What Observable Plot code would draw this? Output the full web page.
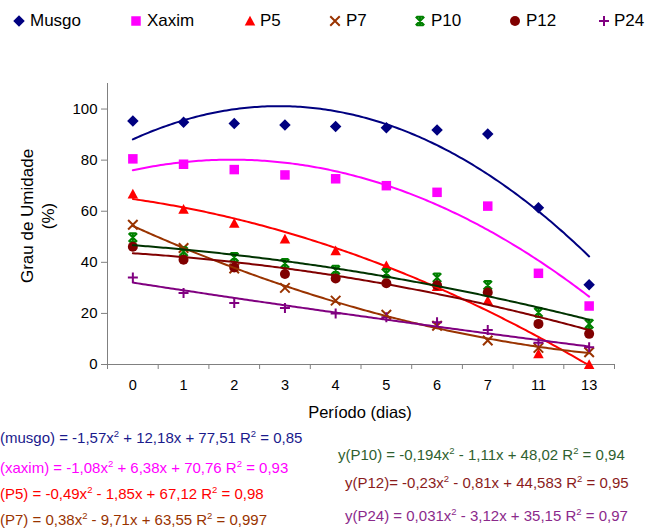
<!DOCTYPE html>
<html><head><meta charset="utf-8">
<script src="https://cdn.jsdelivr.net/npm/d3@7"></script>
<script src="https://cdn.jsdelivr.net/npm/@observablehq/plot@0.6"></script>
<style>
body{margin:0;background:#fff;font-family:"Liberation Sans",Arial,sans-serif;}
#wrap{position:relative;width:645px;height:528px;overflow:hidden;background:#fff;}
#wrap svg.plot{position:absolute;left:0;top:0;}
.leg{position:absolute;top:11px;font-size:17px;line-height:20px;color:#000;white-space:nowrap;}
.legm{position:absolute;top:15px;}
.eq{position:absolute;font-size:15px;white-space:nowrap;line-height:16px;}
.eq sup{font-size:9.5px;vertical-align:6px;line-height:0;}
.ylab{position:absolute;font-size:17px;white-space:nowrap;text-align:center;transform:translate(-50%,-50%) rotate(-90deg);line-height:21px;}
.xlab{position:absolute;font-size:16.5px;white-space:nowrap;transform:translate(-50%,-50%);}
</style></head><body><div id="wrap"></div>
<script>
// ---- data ----
const periods = ["0","1","2","3","4","5","6","7","11","13"];
const seriesNames = ["Musgo","Xaxim","P5","P7","P10","P12","P24"];
const musgo = [95.3,94.8,94.3,93.8,93.2,92.7,91.8,90.2,61.4,31.2];
const xaxim = [80.5,78.4,76.3,74.2,72.7,70.0,67.4,62.0,35.7,22.9];
const p5    = [66.7,60.8,55.3,49.1,44.5,38.7,30.5,25.0,4.2,0.0];
const p7    = [54.7,45.6,37.6,30.0,25.0,19.5,15.2,9.4,6.5,4.8];
const p10   = [49.7,44.2,42.0,39.6,37.0,35.7,34.0,31.0,20.4,15.9];
const p12   = [46.1,41.0,38.0,35.4,33.7,31.8,31.0,28.2,15.9,12.0];
const p24   = [34.1,28.0,24.1,22.1,20.0,18.5,16.5,13.5,8.5,6.8];
const coefA = [-1.57,-1.08,-0.49,0.38,-0.194,-0.23,0.031];
const coefB = [12.18,6.38,-1.85,-9.71,-1.11,-0.81,-3.12];
const coefC = [77.51,70.76,67.12,63.55,48.02,44.583,35.15];
const equationLabels = [
  "(musgo) = -1,57x<sup>2</sup> + 12,18x + 77,51 R<sup>2</sup> = 0,85",
  "(xaxim) = -1,08x<sup>2</sup> + 6,38x + 70,76 R<sup>2</sup> = 0,93",
  "(P5) = -0,49x<sup>2</sup> - 1,85x + 67,12 R<sup>2</sup> = 0,98",
  "(P7) = 0,38x<sup>2</sup> - 9,71x + 63,55 R<sup>2</sup> = 0,997",
  "y(P10) = -0,194x<sup>2</sup> - 1,11x + 48,02 R<sup>2</sup> = 0,94",
  "y(P12)= -0,23x<sup>2</sup> - 0,81x + 44,583 R<sup>2</sup> = 0,95",
  "y(P24) = 0,031x<sup>2</sup> - 3,12x + 35,15 R<sup>2</sup> = 0,97"
];
const yTicks = [0,20,40,60,80,100];
const yTitle = ["Grau de Umidade","(%)"];
const xTitle = "Período (dias)";

// ---- styles / layout ----
const markerColors = ["#000080","#FF00FF","#FF0000","#993300","#008000","#800000","#800080"];
const lineColors   = ["#000080","#FF00FF","#FF0000","#993300","#003300","#800000","#800080"];
const eqColors     = ["#1a1a8c","#FF00FF","#FF0000","#993300","#2f5f2f","#8b1c1c","#8b2a8b"];
const eqPos = [[0,430],[0,460],[0,486],[0,512],[338,447],[345,475],[345,508]];
const legMarkX = [19,136,250,335,420,515,604];
const legTextX = [30,147,260,346,431,526,614];

const rad = s => Math.sqrt(s/Math.PI);
const symDiamond = {draw(c,s){const r=rad(s)*1.15;c.moveTo(0,-r);c.lineTo(r,0);c.lineTo(0,r);c.lineTo(-r,0);c.closePath();}};
const symSquare = {draw(c,s){const r=rad(s)*0.95;c.rect(-r,-r,2*r,2*r);}};
const symTriangle = {draw(c,s){const r=rad(s)*1.05;c.moveTo(0,-r);c.lineTo(r,r*0.85);c.lineTo(-r,r*0.85);c.closePath();}};
const symTimes = {draw(c,s){const r=rad(s)*0.95;c.moveTo(-r,-r);c.lineTo(r,r);c.moveTo(r,-r);c.lineTo(-r,r);}};
const symStar = {draw(c,s){const r=rad(s)*0.85;c.moveTo(-r,-r);c.lineTo(r,r);c.moveTo(r,-r);c.lineTo(-r,r);c.moveTo(0,-r);c.lineTo(0,r);c.moveTo(-r*0.8,-r);c.lineTo(r*0.8,-r);c.moveTo(-r*0.8,r);c.lineTo(r*0.8,r);}};
const symCircle = {draw(c,s){const r=rad(s);c.moveTo(r,0);c.arc(0,0,r,0,2*Math.PI);}};
const symPlus = {draw(c,s){const r=rad(s);c.moveTo(-r,0);c.lineTo(r,0);c.moveTo(0,-r);c.lineTo(0,r);}};
const symbols = [symDiamond,symSquare,symTriangle,symTimes,symStar,symCircle,symPlus];
const filled  = [true,true,true,false,false,true,false];

const values = [musgo,xaxim,p5,p7,p10,p12,p24];
const marks = [];
marks.push(Plot.ruleX([-0.5],{stroke:"#808080"}));
marks.push(Plot.axisY({ticks:yTicks,tickSize:6,tickPadding:4,fontSize:15,stroke:"#808080",fill:"#000",label:null}));
marks.push(Plot.axisX({ticks:d3.range(-0.5,10,1),tickSize:5,tickFormat:()=>"",stroke:"#808080",label:null}));
marks.push(Plot.axisX({ticks:d3.range(periods.length),tickSize:0,tickPadding:15,tickFormat:i=>periods[i],fontSize:14.5,fill:"#000",label:null}));
marks.push(Plot.ruleY([0],{stroke:"#808080"}));
values.forEach((vals,k)=>{
  const data = vals.map((v,i)=>({i,v}));
  const opt = {x:"i",y:"v",r:5,symbol:symbols[k]};
  if (filled[k]) { opt.fill = markerColors[k]; opt.stroke = "none"; }
  else { opt.stroke = markerColors[k]; opt.fill = "none"; opt.strokeWidth = 2; }
  marks.push(Plot.dot(data,opt));
});
// trendlines from the displayed polynomial coefficients (x = 1..10 in category order)
seriesNames.forEach((name,k)=>{
  const pts = d3.range(0,9.0001,0.05).map(t=>{const x=t+1;return {t,v:coefA[k]*x*x+coefB[k]*x+coefC[k]};});
  marks.push(Plot.line(pts,{x:"t",y:"v",stroke:lineColors[k],strokeWidth:2,clip:true}));
});

const chart = Plot.plot({
  width:645,height:528,
  marginLeft:107,marginRight:31,marginTop:83,marginBottom:164,
  x:{type:"linear",domain:[-0.5,9.5],axis:null},
  y:{domain:[0,110],axis:null},
  style:{fontFamily:"'Liberation Sans',Arial,sans-serif",background:"#fff",color:"#000"},
  marks
});
const wrap = document.getElementById("wrap");
wrap.appendChild(chart);

// legend
seriesNames.forEach((name,k)=>{
  const path = d3.path(); symbols[k].draw(path, 25*Math.PI);
  const st = filled[k] ? `fill="${markerColors[k]}"` : `fill="none" stroke="${markerColors[k]}" stroke-width="2"`;
  const m = document.createElement("div");
  m.className="legm"; m.style.left=(legMarkX[k]-6)+"px";
  m.innerHTML = `<svg width="12" height="12" viewBox="-6 -6 12 12" style="display:block"><path d="${path}" ${st}/></svg>`;
  wrap.appendChild(m);
  const d = document.createElement("div");
  d.className="leg"; d.style.left=legTextX[k]+"px";
  d.textContent = name;
  wrap.appendChild(d);
});
// axis titles
const yl = document.createElement("div");
yl.className="ylab"; yl.style.left="38px"; yl.style.top="216px";
yl.innerHTML = yTitle.join("<br>");
wrap.appendChild(yl);
const xl = document.createElement("div");
xl.className="xlab"; xl.style.left="360px"; xl.style.top="412px";
xl.textContent = xTitle;
wrap.appendChild(xl);
// equations
equationLabels.forEach((t,k)=>{
  const d = document.createElement("div");
  d.className="eq"; d.style.left=eqPos[k][0]+"px"; d.style.top=eqPos[k][1]+"px";
  d.style.color=eqColors[k]; d.innerHTML=t;
  wrap.appendChild(d);
});
</script></body></html>
